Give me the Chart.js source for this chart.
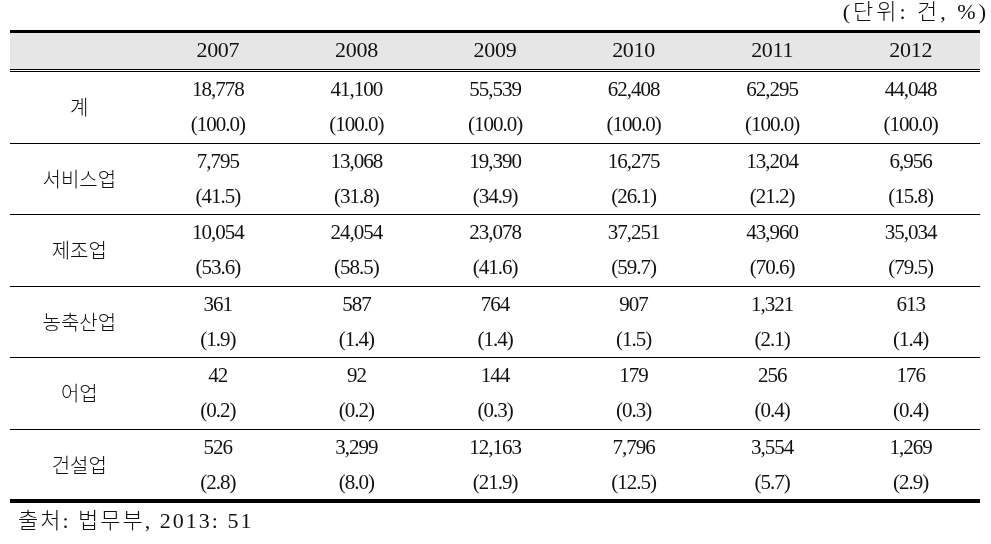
<!DOCTYPE html>
<html lang="ko">
<head>
<meta charset="utf-8">
<script src="https://cdn.jsdelivr.net/npm/chart.js@4"></script>
<style>
html,body{margin:0;padding:0;background:#fff;}
#wrap{width:991px;height:544px;}
</style>
</head>
<body>
<div id="wrap"><canvas id="c" width="991" height="544"></canvas></div>
<script>
// ---- data ----
const years = ['2007', '2008', '2009', '2010', '2011', '2012'];
const industries = ['계', '서비스업', '제조업', '농축산업', '어업', '건설업'];
const totalCounts = [18778, 41100, 55539, 62408, 62295, 44048];
const totalShares = [100.0, 100.0, 100.0, 100.0, 100.0, 100.0];
const serviceCounts = [7795, 13068, 19390, 16275, 13204, 6956];
const serviceShares = [41.5, 31.8, 34.9, 26.1, 21.2, 15.8];
const manufCounts = [10054, 24054, 23078, 37251, 43960, 35034];
const manufShares = [53.6, 58.5, 41.6, 59.7, 70.6, 79.5];
const agriCounts = [361, 587, 764, 907, 1321, 613];
const agriShares = [1.9, 1.4, 1.4, 1.5, 2.1, 1.4];
const fishCounts = [42, 92, 144, 179, 256, 176];
const fishShares = [0.2, 0.2, 0.3, 0.3, 0.4, 0.4];
const constCounts = [526, 3299, 12163, 7796, 3554, 1269];
const constShares = [2.8, 8.0, 21.9, 12.5, 5.7, 2.9];
const unitNote = '(단위: 건, %)';
const sourceNote = '출처: 법무부, 2013: 51';

const countRows = [totalCounts, serviceCounts, manufCounts, agriCounts, fishCounts, constCounts];
const shareRows = [totalShares, serviceShares, manufShares, agriShares, fishShares, constShares];

// ---- layout constants (row/column units on the scales) ----
const HEADER_TOP = -0.573;
const HEADER_DBL = -0.028;

const tablePlugin = {
  id: 'tablePlugin',
  beforeDraw(chart) {
    const { ctx, scales: { x, y } } = chart;
    ctx.save();
    ctx.fillStyle = '#e6e6e6';
    const top = y.getPixelForValue(HEADER_TOP) + 1.5;
    const bot = y.getPixelForValue(HEADER_DBL);
    ctx.fillRect(x.left, top, x.right - x.left, bot - top);
    ctx.restore();
  },
  afterDraw(chart) {
    const { ctx, scales: { x, y } } = chart;
    ctx.save();
    ctx.fillStyle = '#111';
    ctx.textAlign = 'center';
    ctx.textBaseline = 'middle';
    // header
    ctx.font = '22px "Liberation Serif", "Times New Roman", serif';
    ctx.letterSpacing = '-0.3px';
    const hy = y.getPixelForValue((HEADER_TOP + HEADER_DBL) / 2) + 1;
    years.forEach((yr, i) => {
      ctx.fillText(yr, x.getPixelForValue(i + 1.5), hy);
    });
    // body
    industries.forEach((name, r) => {
      ctx.font = '300 20px "Noto Sans CJK KR", sans-serif';
      ctx.letterSpacing = '0px';
      ctx.fillText(name, x.getPixelForValue(0.5), y.getPixelForValue(r + 0.5));
      ctx.font = '21px "Liberation Serif", "Times New Roman", serif';
      ctx.letterSpacing = '-1px';
      countRows[r].forEach((v, i) => {
        ctx.fillText(v.toLocaleString('en-US'), x.getPixelForValue(i + 1.5), y.getPixelForValue(r + 0.26));
      });
      shareRows[r].forEach((v, i) => {
        ctx.fillText('(' + v.toFixed(1) + ')', x.getPixelForValue(i + 1.5), y.getPixelForValue(r + 0.755));
      });
    });
    // unit note & source
    ctx.font = '300 22px "Liberation Serif", "Noto Sans CJK KR", serif';
    ctx.letterSpacing = '3px';
    ctx.textAlign = 'right';
    ctx.fillText(unitNote, 989, y.getPixelForValue(HEADER_TOP) - 18);
    ctx.letterSpacing = '2px';
    ctx.textAlign = 'left';
    ctx.fillText(sourceNote, x.left + 8, y.getPixelForValue(6) + 21);
    ctx.restore();
  }
};

new Chart(document.getElementById('c'), {
  type: 'scatter',
  data: { datasets: [] },
  options: {
    responsive: false,
    animation: false,
    events: [],
    layout: { padding: { left: 10, right: 11, top: 31, bottom: 43 } },
    plugins: { legend: { display: false }, tooltip: { enabled: false }, title: { display: false } },
    scales: {
      x: { type: 'linear', min: 0, max: 7, display: false },
      y: {
        type: 'linear',
        reverse: true,
        min: HEADER_TOP,
        max: 6,
        afterBuildTicks(scale) {
          scale.ticks = [HEADER_TOP, HEADER_DBL, 0, 1, 2, 3, 4, 5, 6].map(v => ({ value: v }));
        },
        afterFit(scale) { scale.width = 0; },
        ticks: { display: false },
        border: { display: false },
        grid: {
          drawTicks: false,
          color: '#000',
          lineWidth(ctx) {
            const v = ctx.tick ? ctx.tick.value : 0;
            if (v === HEADER_TOP) return 3;
            if (v === 6) return 4;
            return 1;
          }
        }
      }
    }
  },
  plugins: [tablePlugin]
});
</script>
</body>
</html>
